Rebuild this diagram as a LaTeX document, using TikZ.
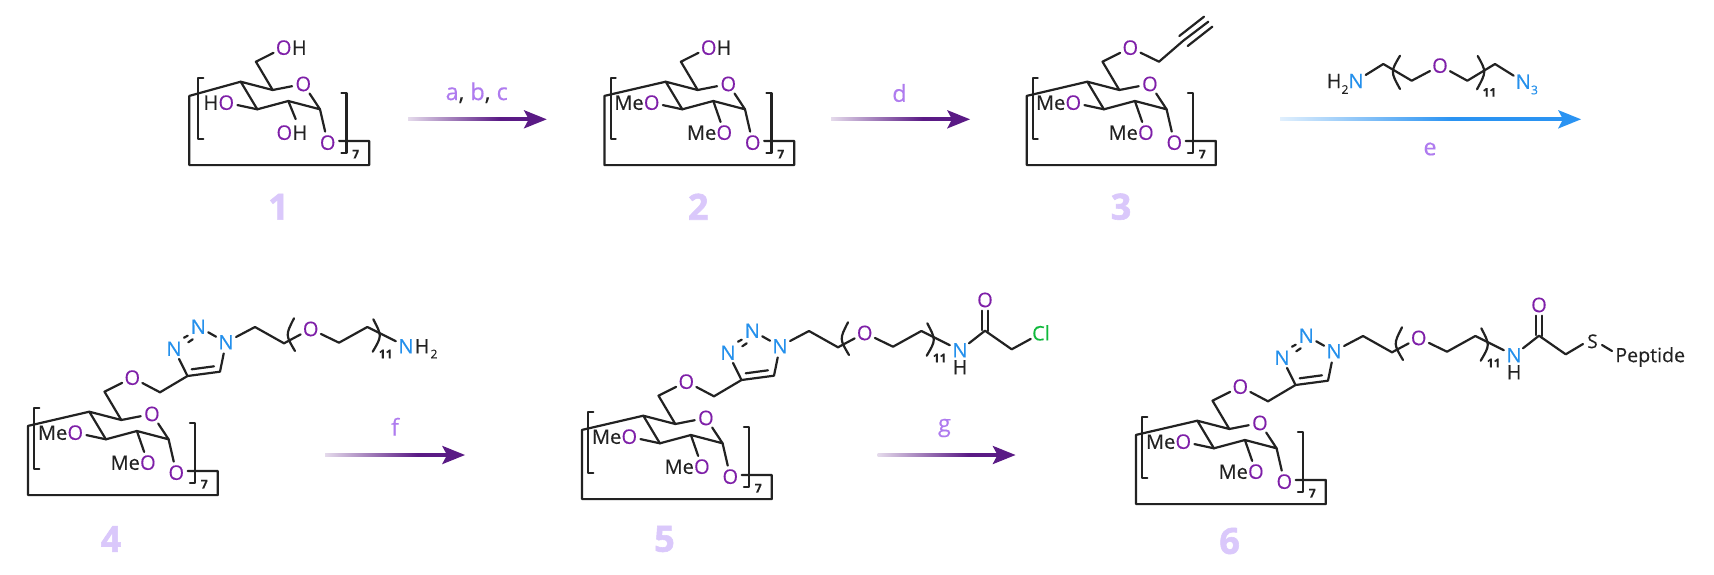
\documentclass[tikz,border=0pt]{standalone}
\usepackage{fontspec}
\setmainfont[FakeBold=0.25]{Open Sans}
\newfontfamily\cpdfont[UprightFont=* Bold,FakeBold=1.6]{Open Sans}
\definecolor{oxy}{HTML}{7E1FA8}
\definecolor{nit}{HTML}{2490EC}
\definecolor{chl}{HTML}{10B93C}
\definecolor{ink}{HTML}{222222}
\definecolor{arwp}{HTML}{5A1A85}
\definecolor{arwb}{HTML}{2A93F2}
\definecolor{lab}{HTML}{AF7BEF}
\definecolor{cpd}{HTML}{DAC8FB}
\pgfdeclarehorizontalshading{fadepurple}{100bp}{color(0bp)=(white); color(18bp)=(white); color(62bp)=(arwp); color(100bp)=(arwp)}
\pgfdeclarehorizontalshading{fadeblue}{100bp}{color(0bp)=(white); color(20bp)=(white); color(55bp)=(arwb); color(100bp)=(arwb)}
\tikzset{
  bond/.style={draw=ink,line width=1.1pt,line cap=round,line join=round},
  atom/.style={circle,inner sep=0pt,minimum size=11pt,font=\fontsize{10}{12}\selectfont,text height=7.1pt,text depth=0pt},
  oatom/.style={atom,text=oxy},
  natom/.style={atom,text=nit},
  txt/.style={inner sep=0pt,font=\fontsize{10}{12}\selectfont,text height=7.1pt,text depth=0pt,text=ink},
  sub/.style={inner sep=0pt,font=\fontsize{6}{7}\selectfont\bfseries,text=ink},
  rlabel/.style={inner sep=0pt,font=\fontsize{11.7}{14}\selectfont,text=lab},
  cpdlabel/.style={inner sep=0pt,font=\fontsize{18}{20}\selectfont\cpdfont,text=cpd},
}
% sugar unit: prefix, origin x, y, box left, bracket left
\newcommand\sugarcore[5]{%
\begin{scope}[shift={(#2,#3)}]
  \coordinate (#1c1) at (0,0);
  \coordinate (#1c2) at (32,8.3);
  \coordinate (#1c3) at (47.6,19.3);
  \coordinate (#1c4) at (16.6,27.6);
  \coordinate (#1c5) at (79.3,27.6);
  \coordinate (#1c6) at (15.2,-20);
  \coordinate (#1tl) at (#4,14.2);
  \coordinate (#1bl) at (#4,83.4);
  \coordinate (#1br) at (128.5,83.4);
  \coordinate (#1tr) at (128.5,59.2);
  \node[oatom] (#1o5) at (62.6,2.3) {O};
  \node[oatom] (#1o1) at (87,61) {O};
  \node[oatom] (#1o6) at (43,-34) {O};
  \draw[bond] (#1c4) -- (#1c1) -- (#1c2) -- (#1o5);
  \draw[bond] (#1o5) -- (#1c5) -- (#1c3) -- (#1c4);
  \draw[bond] (#1c2) -- (#1c6) -- (#1o6);
  \draw[bond] (#1c5) -- (#1o1);
  \draw[bond] (#1o1.east |- #1tr) -- (#1tr) -- (#1br) -- (#1bl) -- (#1tl) -- (#1c1);
  \draw[bond] ({#5+5},-3.4) -- (#5,-3.4) -- (#5,57.6) -- ({#5+5},57.6);
  \draw[bond] (100.7,11) -- (105.7,11) -- (105.7,71.6) -- (100.7,71.6);
  \node[sub] (#1rep) at (115,72.5) {7};
\end{scope}}
% dimethylated substituents
\newcommand\meosub[3]{%
\begin{scope}[shift={(#2,#3)}]
  \node[oatom] (#1o3) at (-14,21) {O};
  \node[txt,anchor=east] (#1me3) at (-21.6,21) {Me};
  \node[oatom] (#1o2) at (58.6,51) {O};
  \node[txt,anchor=east] (#1me2) at (51,51) {Me};
  \draw[bond] (#1c4) -- (#1o3);
  \draw[bond] (#1c3) -- (#1o2);
\end{scope}}
% triazole + PEG chain, drawn at compound 4 position then shifted
\newcommand\pegchain[3]{%
\begin{scope}[shift={(#2,#3)}]
  \coordinate (#1a) at (160,392.3);
  \coordinate (#1tc4) at (187.5,376);
  \coordinate (#1tc5) at (220,371.7);
  \node[natom] (#1n1) at (226,342.3) {N};
  \node[natom] (#1n2) at (198.3,326.7) {N};
  \node[natom] (#1n3) at (174,348.7) {N};
  \coordinate (#1b) at (255,327);
  \coordinate (#1c) at (284,343.3);
  \node[oatom] (#1op) at (310.7,329) {O};
  \coordinate (#1d) at (339,342.7);
  \coordinate (#1e) at (367.3,327);
  \node[natom] (#1nt) at (406,346.3) {N};
  \draw[bond] (#1o6) -- (#1a) -- (#1tc4) -- (#1n3);
  \draw[bond] (#1tc4) -- (#1tc5) -- (#1n1);
  \draw[bond] (#1n1) -- (#1n2);
  \coordinate (#1s1) at (184,337.7); \coordinate (#1s2) at (187.7,335.7);
  \coordinate (#1s3) at (188.3,342.3); \coordinate (#1s4) at (192.7,339.3);
  \draw[bond] (#1s1) -- (#1s2);
  \draw[bond] (#1s3) -- (#1s4);
  \coordinate (#1d1) at (191.7,369.3); \coordinate (#1d2) at (214,366.3);
  \draw[bond] (#1d1) -- (#1d2);
  \draw[bond] (#1n1) -- (#1b) -- (#1c) -- (#1op);
  \draw[bond] (#1op) -- (#1d) -- (#1e) -- (#1nt);
  \draw[bond] (294,318.3) .. controls (285.5,335) .. (295,351);
  \draw[bond] (373.3,319.3) .. controls (382,336) .. (372.7,351.7);
  \node[sub] (#1rep2) at (385.7,354) {11};
\end{scope}}
% reaction arrow: name, x start, x tip, y, shading, colour
\newcommand\rxn[6]{%
  \coordinate (#1s) at (#2,#4);
  \coordinate (#1t) at (#3,#4);
  \shade[shading=#5] (#2,{#4-1.5}) rectangle ({#3-15},{#4+1.5});
  \fill[#6] (#1t) -- ({#3-23},{#4-9.3}) -- ({#3-18},#4) -- ({#3-23},{#4+9.3}) -- cycle;}
\begin{document}
\begin{tikzpicture}[x=0.5pt,y=-0.5pt]
\useasboundingbox (0,0) rectangle (1714,574);
\fill[white] (0,0) rectangle (1714,574);

% ---- compound 1
\sugarcore{a}{240.7}{81.7}{-51.4}{-42.4}
\begin{scope}[shift={(240.7,81.7)}]
  \node[txt,anchor=west] (ah6) at (50.8,-34) {H};
  \node[oatom] (ao3) at (-14.4,21) {O};
  \node[txt,anchor=east] (ah3) at (-22,21) {H};
  \node[oatom] (ao2) at (43.6,51) {O};
  \node[txt,anchor=west] (ah2) at (51.4,51) {H};
  \coordinate (ae2) at (55,37.4);
  \draw[bond] (ac4) -- (ao3);
  \draw[bond] (ac3) -- (ae2);
\end{scope}
\node[cpdlabel] (l1) at (278.5,206.7) {1};

% ---- compound 2
\sugarcore{b}{665.7}{81.7}{-61.3}{-55}
\meosub{b}{665.7}{81.7}
\node[txt,anchor=west] (bh6) at (716.2,47.7) {H};
\node[cpdlabel] (l2) at (698.3,206.7) {2};

% ---- compound 3
\sugarcore{c}{1087.3}{81.7}{-60.6}{-54.6}
\meosub{c}{1087.3}{81.7}
\coordinate (cp1) at (1159,61.7);
\coordinate (cp2) at (1183.3,40.7);
\coordinate (cp3) at (1208.3,21.7);
\coordinate (cp4) at (1179.3,36);
\coordinate (cp5) at (1204,16.7);
\coordinate (cp6) at (1187.7,46);
\coordinate (cp7) at (1212.3,26.7);
\draw[bond] (co6) -- (cp1) -- (cp2) -- (cp3);
\draw[bond] (cp4) -- (cp5);
\draw[bond] (cp6) -- (cp7);
\node[cpdlabel] (l3) at (1121,206.7) {3};

% ---- PEG reagent above arrow e
\node[natom] (rn) at (1356,81) {N};
\node[txt] (rh) at (1334,81) {H};
\node[sub,font=\fontsize{6}{7}\selectfont] (rh2) at (1345,89.5) {2};
\coordinate (r1) at (1383.3,64);
\coordinate (r2) at (1411.7,80.7);
\node[oatom] (ro) at (1440,65.7) {O};
\coordinate (r3) at (1467.3,80.7);
\coordinate (r4) at (1495,64);
\node[natom] (rn3) at (1523.3,81.7) {N};
\node[inner sep=0pt,font=\fontsize{6}{7}\selectfont,text=nit] (rn3s) at (1534.5,90) {3};
\draw[bond] (rn) -- (r1) -- (r2) -- (ro);
\draw[bond] (ro) -- (r3) -- (r4) -- (rn3);
\draw[bond] (1400,55.7) .. controls (1390.5,71.7) .. (1400,89);
\draw[bond] (1477.7,56) .. controls (1486.5,71.7) .. (1477,89.3);
\node[sub] (r11) at (1489.5,92.3) {11};

% ---- compound 4
\sugarcore{d}{89.3}{411.7}{-61.3}{-55}
\meosub{d}{89.3}{411.7}
\pegchain{d}{0}{0}
\node[txt] (dh) at (422,346.3) {H};
\node[sub,font=\fontsize{6}{7}\selectfont] (dh2) at (434,354) {2};
\node[cpdlabel] (l4) at (111,539) {4};

% ---- compound 5
\sugarcore{e}{643.3}{415.7}{-61.3}{-55}
\meosub{e}{643.3}{415.7}
\pegchain{e}{554}{4}
\node[txt] (eh) at (960,367.3) {H};
\coordinate (ec1) at (985,330.7);
\node[oatom] (eo) at (985,300) {O};
\coordinate (ec2) at (1011.7,349.3);
\node[atom,text=chl] (ecl) at (1041,333.3) {Cl};
\coordinate (eo1) at (982.3,310.7); \coordinate (eo2) at (982.3,330);
\coordinate (eo3) at (988.3,310.7); \coordinate (eo4) at (988.3,331);
\draw[bond] (ent) -- (ec1) -- (ec2) -- (ecl);
\draw[bond] (eo1) -- (eo2);
\draw[bond] (eo3) -- (eo4);
\node[cpdlabel] (l5) at (664.5,539) {5};

% ---- compound 6
\sugarcore{f}{1197.3}{420.7}{-61.3}{-55}
\meosub{f}{1197.3}{420.7}
\pegchain{f}{1108}{9}
\node[txt] (fh) at (1514,372.3) {H};
\coordinate (fc1) at (1539,335.7);
\node[oatom] (fo) at (1539,305) {O};
\coordinate (fc2) at (1565.7,354.3);
\node[txt,font=\fontsize{9.5}{11}\selectfont] (fs) at (1592.5,341) {S};
\node[txt,anchor=west,font=\fontsize{9.8}{11}\selectfont] (fp) at (1615,355) {Peptide};
\coordinate (fo1) at (1536.3,315.7); \coordinate (fo2) at (1536.3,335);
\coordinate (fo3) at (1542.3,315.7); \coordinate (fo4) at (1542.3,336);
\coordinate (fse) at (1583,344);
\coordinate (fs1) at (1602,345); \coordinate (fs2) at (1612,351);
\draw[bond] (fnt) -- (fc1) -- (fc2) -- (fse);
\draw[bond] (fs1) -- (fs2);
\draw[bond] (fo1) -- (fo2);
\draw[bond] (fo3) -- (fo4);
\node[cpdlabel] (l6) at (1229.6,541) {6};

% ---- arrows and conditions
\rxn{ra}{408}{546.7}{119.3}{fadepurple}{arwp}
\node[rlabel] (ta) at (476.7,92.7) {a\textcolor{ink}{,} b\textcolor{ink}{,} c};
\rxn{rd}{831}{970}{119.3}{fadepurple}{arwp}
\node[rlabel] (td) at (899.5,93) {d};
\rxn{re}{1280}{1581}{119.3}{fadeblue}{arwb}
\node[rlabel] (te) at (1430,149) {e};
\rxn{rf}{325}{465}{455}{fadepurple}{arwp}
\node[rlabel] (tf) at (395,426.7) {f};
\rxn{rg}{877.7}{1015.5}{455}{fadepurple}{arwp}
\node[rlabel] (tg) at (944.4,428) {g};
\end{tikzpicture}
\end{document}
